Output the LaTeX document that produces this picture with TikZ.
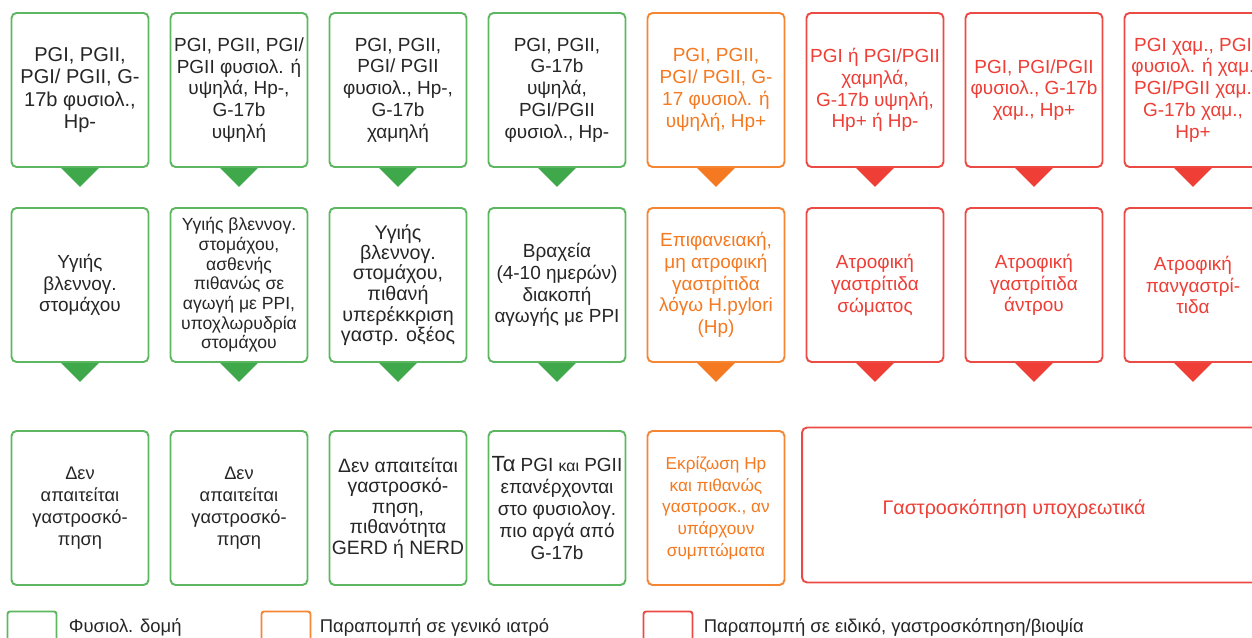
\documentclass[tikz,border=0pt]{standalone}
\usepackage{fontspec}
\setmainfont{Liberation Sans}
\usepackage{xcolor}
\usetikzlibrary{calc,positioning}
\definecolor{grline}{HTML}{5DB761}
\definecolor{grfill}{HTML}{3FA84A}
\definecolor{orline}{HTML}{F58634}
\definecolor{orfill}{HTML}{F47920}
\definecolor{rdline}{HTML}{EC4B45}
\definecolor{rdfill}{HTML}{EE3E36}
\definecolor{txtgray}{HTML}{262626}

\begin{document}
\begin{tikzpicture}[
    x=0.02cm, y=-0.02cm,
    box/.style={rectangle, rounded corners=0.1cm, line width=1.1pt, fill=white,
        minimum width=2.74cm, minimum height=3.08cm, inner sep=0,
        align=center, font=\fontsize{10.8}{12.4}\selectfont},
    gbox/.style={box, draw=grline, text=txtgray},
    obox/.style={box, draw=orline, text=orfill},
    rbox/.style={box, draw=rdline, text=rdfill},
    legbox/.style={rectangle, rounded corners=0.05cm, line width=1.1pt,
        minimum width=0.98cm, minimum height=0.62cm, draw=#1},
    legtext/.style={anchor=west, inner xsep=0, text=txtgray, font=\fontsize{10.5}{12}\selectfont}
]
\useasboundingbox (0,0) rectangle (1252,638);
\clip (0,0) rectangle (1252,638);

% row 1: findings
\node[gbox, font=\fontsize{11.4}{12.8}\selectfont] (a1) at (80,90) {PGI, PGII,\\ PGI/ PGII, G-\\ 17b φυσιολ.,\\ Hp-};
\node[gbox] (a2) at (239,90)  {PGI, PGII, PGI/\\ PGII φυσιολ. ή\\ υψηλά, Hp-,\\ G-17b\\ υψηλή};
\node[gbox] (a3) at (398,90)  {PGI, PGII,\\ PGI/ PGII\\ φυσιολ., Hp-,\\ G-17b\\ χαμηλή};
\node[gbox] (a4) at (557,90)  {PGI, PGII,\\ G-17b\\ υψηλά,\\ PGI/PGII\\ φυσιολ., Hp-};
\node[obox] (a5) at (716,90)  {PGI, PGII,\\ PGI/ PGII, G-\\ 17 φυσιολ. ή\\ υψηλή, Hp+};
\node[rbox] (a6) at (875,90)  {PGI ή PGI/PGII\\ χαμηλά,\\ G-17b υψηλή,\\ Hp+ ή Hp-};
\node[rbox] (a7) at (1034,90) {PGI, PGI/PGII\\ φυσιολ., G-17b\\ χαμ., Hp+};
\node[rbox] (a8) at (1193,90) {PGI χαμ., PGI\\ φυσιολ. ή χαμ.\\ PGI/PGII χαμ.\\ G-17b χαμ.,\\ Hp+};

% row 2: diagnosis
\node[gbox] (b1) at (80,285)   {Υγιής\\ βλεννογ.\\ στομάχου};
\node[gbox, font=\fontsize{10}{11.2}\selectfont] (b2) at (239,285)
    {Υγιής βλεννογ.\\ στομάχου,\\ ασθενής\\ πιθανώς σε\\ αγωγή με PPI,\\ υποχλωρυδρία\\ στομάχου};
\node[gbox, font=\fontsize{11.2}{9.9}\selectfont] (b3) at (398,285)
    {Υγιής\\ βλεννογ.\\ στομάχου,\\ πιθανή\\ υπερέκκριση\\ γαστρ. οξέος};
\node[gbox] (b4) at (557,285)  {Βραχεία\\ (4-10 ημερών)\\ διακοπή\\ αγωγής με PPI};
\node[obox] (b5) at (716,285)  {Επιφανειακή,\\ μη ατροφική\\ γαστρίτιδα\\ λόγω H.pylori\\ (Hp)};
\node[rbox] (b6) at (875,285)  {Ατροφική\\ γαστρίτιδα\\ σώματος};
\node[rbox] (b7) at (1034,285) {Ατροφική\\ γαστρίτιδα\\ άντρου};
\node[rbox] (b8) at (1193,285) {Ατροφική\\ πανγαστρί-\\ τιδα};

% pointers under rows 1 and 2
\foreach \n/\c in {a1/grfill,a2/grfill,a3/grfill,a4/grfill,a5/orfill,a6/rdfill,a7/rdfill,a8/rdfill,
                   b1/grfill,b2/grfill,b3/grfill,b4/grfill,b5/orfill,b6/rdfill,b7/rdfill,b8/rdfill}
    \fill[\c] ($(\n.south)+(-19,0)$) -- ++(38,0) -- ++(-19,19) -- cycle;

% row 3: action
\node[gbox, font=\fontsize{10.4}{12.4}\selectfont] (c1) at (80,508)  {Δεν\\ απαιτείται\\ γαστροσκό-\\ πηση};
\node[gbox, font=\fontsize{10.4}{12.4}\selectfont] (c2) at (239,508) {Δεν\\ απαιτείται\\ γαστροσκό-\\ πηση};
\node[gbox, font=\fontsize{11}{11.7}\selectfont] (c3) at (398,508)
    {Δεν απαιτείται\\ γαστροσκό-\\ πηση,\\ πιθανότητα\\ GERD ή NERD};
\node[gbox] (c4) at (557,508)
    {{\fontsize{12.5}{12.4}\selectfont Τα} PGI {\fontsize{9}{12.4}\selectfont και} PGII\\ επανέρχονται\\ στο φυσιολογ.\\ πιο αργά από\\ G-17b};
\node[obox, font=\fontsize{9.8}{12.4}\selectfont] (c5) at (716,508)
    {Εκρίζωση Hp\\ και πιθανώς\\ γαστροσκ., αν\\ υπάρχουν\\ συμπτώματα};
\node[rbox, minimum width=9.2cm, minimum height=3.1cm] (c6) at (1032,505) {};
\node[text=rdfill, font=\fontsize{11.2}{12}\selectfont] (c6txt) at (1014,509) {Γαστροσκόπηση υποχρεωτικά};

% legend
\node[legbox=grline] (lg1) at (32,627) {};
\node[legtext, right=0.22cm of lg1] (lt1) {Φυσιολ. δομή};
\node[legbox=orline] (lg2) at (286,627) {};
\node[legtext, right=0.16cm of lg2] (lt2) {Παραπομπή σε γενικό ιατρό};
\node[legbox=rdline] (lg3) at (668,627) {};
\node[legtext, right=0.2cm of lg3] (lt3) {Παραπομπή σε ειδικό, γαστροσκόπηση/βιοψία};

\end{tikzpicture}
\end{document}
